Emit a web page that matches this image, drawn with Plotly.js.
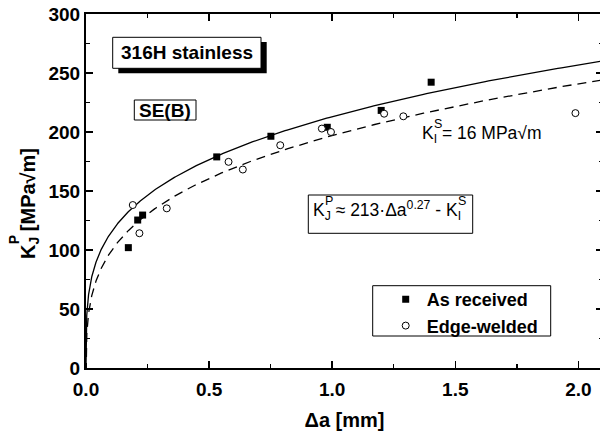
<!DOCTYPE html>
<html>
<head>
<meta charset="utf-8">
<script src="https://cdn.plot.ly/plotly-3.0.1.min.js"></script>
<style>
  html, body { margin: 0; padding: 0; overflow: hidden; background: #fff; }
  #chart { width: 605px; height: 436px; }
</style>
</head>
<body>
<div id="chart"></div>
<script>
// J-R resistance of 316H stainless, SE(B) specimens
const asReceivedDa = [0.172, 0.210, 0.230, 0.531, 0.751, 0.980, 1.199, 1.402];
const asReceivedK  = [102.0, 125.4, 129.6, 178.9, 196.4, 204.0, 218.3, 242.2];
const edgeWeldedDa = [0.190, 0.217, 0.328, 0.579, 0.637, 0.789, 0.958, 0.995, 1.211, 1.289, 1.988];
const edgeWeldedK  = [138.1, 114.2, 135.3, 174.7, 168.2, 188.8, 202.9, 200.0, 215.5, 213.3, 216.0];

// Power-law fit  K = A·Δa^n  and the same law shifted down by K_I^S
const fitA = 213;
const fitN = 0.27;
const fitKIS = 16;

const seriesNames = ['As received', 'Edge-welded'];

const BOLD = 'Liberation Sans, Arial, sans-serif';
const PLAIN = 'Liberation Sans, Arial, sans-serif';

// curve sampling grid, dense near Δa = 0 where the law rises steeply
const fitDa = Array.from({length: 401}, (_, i) => 2.1 * Math.pow(i / 400, 3));
const fitUpper = fitDa.map(a => fitA * Math.pow(a, fitN));
const fitLower = fitDa.map(a => fitA * Math.pow(a, fitN) - fitKIS);

const W = 605, H = 436;
const margin = {l: 86, r: 2, t: 14, b: 68};
const plotW = W - margin.l - margin.r;
const plotH = H - margin.t - margin.b;
// page pixel -> paper fraction helpers for the decorations
const px = x => (x - margin.l) / plotW;
const py = y => (H - margin.b - y) / plotH;

const traces = [
  {x: fitDa, y: fitUpper, type: 'scatter', mode: 'lines',
   line: {color: '#000', width: 1.3}, showlegend: false, hoverinfo: 'skip'},
  {x: fitDa, y: fitLower, type: 'scatter', mode: 'lines',
   line: {color: '#000', width: 1.3, dash: '9px,6px'}, showlegend: false, hoverinfo: 'skip'},
  {x: asReceivedDa, y: asReceivedK, type: 'scatter', mode: 'markers', name: seriesNames[0],
   marker: {symbol: 'square', size: 7, color: '#000'}},
  {x: edgeWeldedDa, y: edgeWeldedK, type: 'scatter', mode: 'markers', name: seriesNames[1],
   marker: {symbol: 'circle', size: 7, color: '#fff', line: {color: '#000', width: 1}}}
];

const axisCommon = {
  showline: true, linewidth: 2, linecolor: '#000', mirror: 'ticks',
  ticks: 'inside', ticklen: 7, tickwidth: 1.5, tickcolor: '#000',
  showgrid: false, zeroline: false, fixedrange: true,
  tickfont: {family: BOLD, size: 19, weight: 'bold', color: '#000'}
};

const annotations = [
  {text: '316H stainless', x: px(186.9), y: py(52.8)},
  {text: 'SE(B)', x: px(165.2), y: py(110)},
  {text: 'K<sub>J</sub> ≈ 213·Δa<sup>0.27</sup> - K<sub>I</sub>', x: px(387), y: py(210),
   font: {family: PLAIN, size: 17.5, color: '#000'}},
  {text: 'K<sub>I</sub> = 16 MPa√m', x: px(421.7), y: py(134), xanchor: 'left',
   font: {family: PLAIN, size: 17.5, color: '#000'}},
  {text: 'K<sub>J</sub> [MPa√m]', x: px(29), y: py(204), textangle: -90,
   font: {family: BOLD, size: 20, weight: 'bold', color: '#000'}}
].map(a => Object.assign({
  xref: 'paper', yref: 'paper', showarrow: false, xanchor: 'center', yanchor: 'middle',
  borderpad: 0, borderwidth: 0,
  font: {family: BOLD, size: 19, weight: 'bold', color: '#000'}
}, a));

const rect = (x0, y0, x1, y1, fill, lw) => ({
  type: 'rect', xref: 'paper', yref: 'paper', layer: 'above',
  x0: px(x0), x1: px(x1), y0: py(y1), y1: py(y0),
  fillcolor: fill, line: {color: '#000', width: lw}
});

const layout = {
  width: W, height: H, margin: margin,
  paper_bgcolor: '#fff', plot_bgcolor: '#fff',
  font: {family: BOLD, size: 18, color: '#000'},
  xaxis: Object.assign({}, axisCommon, {
    range: [0, 2.1], tickmode: 'linear', tick0: 0, dtick: 0.5, tickformat: '.1f',
    ticklabelstandoff: 3,
    minor: {ticks: 'inside', ticklen: 4, tickwidth: 1.5, tickcolor: '#000', tick0: 0, dtick: 0.25},
    title: {text: 'Δa [mm]', font: {family: BOLD, size: 20, weight: 'bold', color: '#000'}, standoff: 14}
  }),
  yaxis: Object.assign({}, axisCommon, {
    range: [0, 300], tickmode: 'linear', tick0: 0, dtick: 50,
    minor: {ticks: 'inside', ticklen: 4, tickwidth: 1.5, tickcolor: '#000', tick0: 0, dtick: 25}
  }),
  showlegend: true,
  legend: {
    x: px(384.7), y: py(281), xanchor: 'left', yanchor: 'top',
    bgcolor: 'rgba(0,0,0,0)', borderwidth: 0, itemwidth: 32,
    font: {family: BOLD, size: 18, weight: 'bold', color: '#000'}
  },
  shapes: [
    rect(118.3, 42, 266.7, 73.3, '#000', 0),
    rect(112.7, 37.3, 261, 68.3, '#fff', 1),
    rect(134.3, 100, 196, 120, '#fff', 1),
    rect(308.3, 195, 472.7, 233.3, '#fff', 1),
    rect(372.7, 285.7, 550.7, 336, '#fff', 1)   // legend frame
  ],
  annotations: annotations
};

// superscripts stacked directly above the subscripts (K with sub and sup at one position)
const supPlan = [
  {index: 2, sub: 'J', sup: 'P', lift: 15, angle: 0, font: {family: PLAIN, size: 12.5, color: '#000'}},
  {index: 2, sub: 'I', sup: 'S', lift: 15, angle: 0, font: {family: PLAIN, size: 12.5, color: '#000'}},
  {index: 3, sub: 'I', sup: 'S', lift: 15, angle: 0, font: {family: PLAIN, size: 12.5, color: '#000'}},
  {index: 4, sub: 'J', sup: 'P', lift: 20, angle: -90, font: {family: BOLD, size: 14, weight: 'bold', color: '#000'}}
];

const gd = document.getElementById('chart');
Plotly.newPlot(gd, traces, layout, {staticPlot: true, displayModeBar: false}).then(() => {
  const base = gd.getBoundingClientRect();
  const used = new Set();
  const extra = [];
  supPlan.forEach(p => {
    const g = gd.querySelector('g.annotation[data-index="' + p.index + '"]');
    if (!g) return;
    const tsp = Array.from(g.querySelectorAll('tspan'))
      .filter(t => t.textContent === p.sub && !used.has(t))[0];
    if (!tsp) return;
    used.add(tsp);
    const r = tsp.getBoundingClientRect();
    const cx = (r.left + r.right) / 2 - base.left;
    const cy = (r.top + r.bottom) / 2 - base.top;
    const ann = {xref: 'paper', yref: 'paper', showarrow: false, text: p.sup,
                 font: p.font, borderpad: 0, borderwidth: 0};
    if (p.angle === 0) {
      Object.assign(ann, {x: px(r.left - base.left), y: py(cy - p.lift), xanchor: 'left', yanchor: 'middle'});
    } else {
      Object.assign(ann, {x: px(cx - p.lift), y: py(r.bottom - base.top), xanchor: 'center', yanchor: 'bottom',
                          textangle: p.angle});
    }
    extra.push(ann);
  });
  return Plotly.relayout(gd, {annotations: annotations.concat(extra)});
});
</script>
</body>
</html>
